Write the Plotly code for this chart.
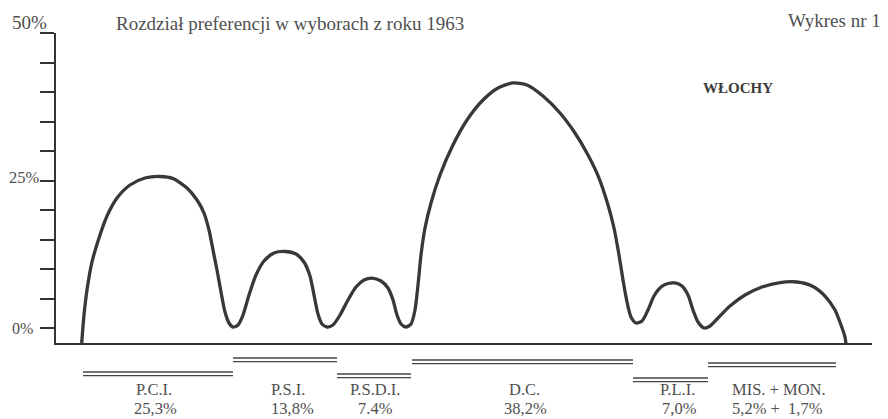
import plotly.graph_objects as go

# ---- data ----
# hand-drawn preference curve (x: horizontal position along the axis, y: percent)
curve_x = [25.7, 28, 31, 36, 43, 51, 61, 74, 89, 104, 117, 131, 141, 148, 153, 157, 161, 165, 169, 173, 177, 182,
           187, 193, 200, 208, 218, 229, 240, 248, 254, 258, 262, 266, 271, 277,
           284, 292, 300, 308, 316, 325, 332, 337, 341, 345, 350, 355,
           359, 362, 365, 369, 375, 384, 396, 411, 427, 442, 457, 471, 487, 504, 519, 532, 543, 552, 558,
           563, 567, 571, 575, 580, 586,
           592, 598, 605, 612, 619, 626, 632, 637, 642, 648, 654,
           662, 674, 689, 706, 724, 741, 756, 769, 779, 785, 789, 790]
curve_y = [-2.54, 2.20, 6.44, 11.19, 15.25, 18.98, 22.03, 24.24, 25.42, 25.68, 25.34, 23.73, 21.69, 19.49,
           16.61, 13.22, 9.83, 6.10, 2.71, 0.85, 0.17, 0.51,
           2.20, 5.59, 8.98, 11.36, 12.71, 12.97, 12.54, 11.19, 8.81, 5.59, 2.37, 0.68, 0.17, 0.51,
           2.20, 4.75, 6.95, 8.14, 8.47, 7.97, 6.78, 4.75, 2.20, 0.68, 0.17, 0.68,
           3.05, 7.29, 12.37, 16.95, 21.19, 25.93, 30.68, 35.25, 38.64, 40.68, 41.53, 41.19, 39.32, 36.44,
           33.05, 29.32, 25.42, 20.85, 16.95, 12.37, 8.14, 4.41, 1.86, 0.85, 1.19,
           3.05, 5.42, 6.95, 7.54, 7.63, 7.12, 5.59, 3.05, 1.02, 0.0, 0.34,
           1.69, 3.73, 5.59, 6.95, 7.71, 7.80, 7.12, 5.42, 3.05, 0.51, -1.53, -2.71]

parties = ["P.C.I.", "P.S.I.", "P.S.D.I.", "D.C.", "P.L.I.", "MIS. + MON."]
shares = ["25,3%", "13,8%", "7.4%", "38,2%", "7,0%", "5,2% +  1,7%"]
seg_start = [27, 177, 281, 356, 577, 652]
seg_end = [177, 281, 355, 577, 652, 780]

y_ticks = [0, 5, 10, 15, 20, 25, 30, 35, 40, 45, 50]
y_labels = ["0%", "25%", "50%"]
y_label_vals = [0, 25, 50]

title_text = "Rozdział preferencji w wyborach z roku 1963"
fig_no = "Wykres nr 1"
country = "WŁOCHY"

# ---- layout constants (pixels) ----
W, H = 888, 419
ML, MR, MT, MB = 56, 16, 33, 76
Y0, Y1 = -2.54, 50
plot_h = H - MT - MB


def paper_y(px):
    return (H - MB - px) / plot_h


FONT = "Liberation Serif"
TXT = "#505050"
INK = "#333333"

fig = go.Figure()
fig.add_trace(go.Scatter(x=curve_x, y=curve_y, mode="lines",
                         line=dict(color="#383838", width=3.3, shape="spline", smoothing=0.7),
                         hoverinfo="skip", showlegend=False))

# staggered double bars under the axis
seg_levels = [372, 358, 374, 360, 378, 363]  # pixel rows of the upper line
shapes = []
for s, e, lv in zip(seg_start, seg_end, seg_levels):
    for off in (0, 3.6):
        shapes.append(dict(type="line", xref="x", yref="paper", x0=s, x1=e,
                           y0=paper_y(lv + off), y1=paper_y(lv + off),
                           line=dict(color="#444444", width=1.4)))

ann = []
label_x = [98, 232, 319, 468, 621, 723]
share_x = [99, 236, 319, 469, 623, 721]
for p, s, lx, sx in zip(parties, shares, label_x, share_x):
    ann.append(dict(x=lx, y=paper_y(389), xref="x", yref="paper", text=p, showarrow=False,
                    xanchor="center", yanchor="middle", font=dict(family=FONT, size=16.5, color=TXT)))
    ann.append(dict(x=sx, y=paper_y(408), xref="x", yref="paper", text=s, showarrow=False,
                    xanchor="center", yanchor="middle", font=dict(family=FONT, size=16.5, color=TXT)))

# y tick labels
ylab_pos = {0: (35, 328, 16), 25: (42, 177, 16.5), 50: (49, 22, 19)}
for lab, v in zip(y_labels, y_label_vals):
    rx, cy, fs = ylab_pos[v]
    ann.append(dict(x=(rx - ML) / (W - ML - MR), y=paper_y(cy), xref="paper", yref="paper",
                    text=lab, showarrow=False, xanchor="right", yanchor="middle",
                    font=dict(family=FONT, size=fs, color=TXT)))

ann.append(dict(x=(114 - ML) / (W - ML - MR), y=paper_y(23), xref="paper", yref="paper",
                text=title_text, showarrow=False, xanchor="left", yanchor="middle",
                font=dict(family=FONT, size=19, color=TXT)))
ann.append(dict(x=(883 - ML) / (W - ML - MR), y=paper_y(21), xref="paper", yref="paper",
                text=fig_no, showarrow=False, xanchor="right", yanchor="middle",
                font=dict(family=FONT, size=19, color=TXT)))
ann.append(dict(x=(738 - ML) / (W - ML - MR), y=paper_y(88), xref="paper", yref="paper",
                text="<b>" + country + "</b>", showarrow=False, xanchor="center", yanchor="middle",
                font=dict(family=FONT, size=15, color="#3c3c3c")))

fig.update_layout(
    width=W, height=H,
    margin=dict(l=ML, r=MR, t=MT, b=MB, pad=0),
    paper_bgcolor="white", plot_bgcolor="rgba(0,0,0,0)",
    shapes=shapes, annotations=ann, showlegend=False,
    xaxis=dict(range=[0, W - ML - MR], showgrid=False, zeroline=False, showticklabels=False,
               ticks="", showline=True, linecolor=INK, linewidth=2, fixedrange=True),
    yaxis=dict(range=[Y0, Y1], showgrid=False, zeroline=False, showticklabels=False,
               tickmode="array", tickvals=y_ticks, ticks="outside", ticklen=14,
               tickwidth=1.6, tickcolor=INK, showline=True, linecolor=INK, linewidth=2.4,
               fixedrange=True),
)

fig.write_html("out.html", config={"displayModeBar": False},
               post_script="document.body.style.margin='0';document.body.style.overflow='hidden';")
